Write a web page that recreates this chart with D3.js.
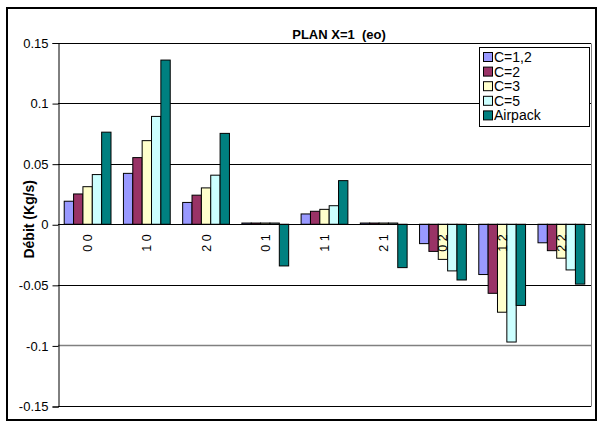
<!DOCTYPE html>
<html><head><meta charset="utf-8">
<script src="https://cdn.jsdelivr.net/npm/d3@7"></script>
<style>body{margin:0;background:#fff}svg{display:block;font-family:Arial,"Liberation Sans",sans-serif}</style>
</head><body>
<svg id="c" width="599" height="423"></svg>
<script>
const categories = ["0 0","1 0","2 0","0 1","1 1","2 1","0 2","1 2","2 2"];
const seriesNames = ["C=1,2","C=2","C=3","C=5","Airpack"];
const c12 = [0.019,0.042,0.018,0.001,0.0085,0.001,-0.016,-0.0415,-0.0153];
const c2 = [0.025,0.055,0.024,0.001,0.0107,0.001,-0.0224,-0.057,-0.0218];
const c3 = [0.031,0.069,0.030,0.001,0.0123,0.001,-0.029,-0.0726,-0.028];
const c5 = [0.041,0.089,0.0405,0.001,0.0153,0.001,-0.0385,-0.0972,-0.0377];
const airpack = [0.076,0.1355,0.075,-0.0344,0.036,-0.0358,-0.046,-0.067,-0.0494];
const colors = ["#9999FF","#993366","#FFFFCC","#CCFFFF","#008080"];
const yTicks = [0.15,0.1,0.05,0,-0.05,-0.1,-0.15];
const title = "PLAN X=1  (eo)";
const yTitle = "Débit (Kg/s)";

const series = [c12,c2,c3,c5,airpack];
const svg = d3.select("#c");
const L=58,R=591,T=42.5,B=406;
const x = d3.scaleBand().domain(categories).range([L,R]).paddingInner(0.21).paddingOuter(0.105);
const xs = d3.scaleBand().domain(seriesNames).range([0,x.bandwidth()]);
const y = d3.scaleLinear().domain([-0.15,0.15]).range([B,T]);

// outer border
svg.append("rect").attr("x",7).attr("y",8).attr("width",589).attr("height",412)
  .attr("fill","none").attr("stroke","#000").attr("stroke-width",2);

// gridlines
svg.append("g").selectAll("line").data(yTicks).join("line")
  .attr("x1",L).attr("x2",R).attr("y1",d=>Math.round(y(d))+0.5).attr("y2",d=>Math.round(y(d))+0.5)
  .attr("stroke",d=>d===-0.1?"#808080":"#000").attr("stroke-width",d=>d===-0.1?1.5:1);
svg.append("line").attr("x1",R+0.5).attr("x2",R+0.5).attr("y1",Math.round(y(0.15))+0.5).attr("y2",Math.round(y(-0.15))+0.5)
  .attr("stroke","#808080");

// y axis
const yAxis = d3.axisLeft(y).tickValues(yTicks).tickSize(6).tickFormat(d=>String(d));
const ga = svg.append("g").attr("transform",`translate(${L+0.5},0.5)`).call(yAxis);
ga.select(".domain").attr("stroke","#000");
ga.selectAll(".tick line").attr("stroke","#000");
ga.selectAll(".tick text").attr("font-size",13).attr("font-family","Arial, 'Liberation Sans', sans-serif").attr("fill","#000").attr("x",-10);

// bars
const groups = svg.append("g").selectAll("g").data(categories).join("g")
  .attr("transform",d=>`translate(${x(d)},0)`);
groups.selectAll("rect").data((c,i)=>series.map((s,k)=>({k,v:s[i]}))).join("rect")
  .attr("x",d=>xs(seriesNames[d.k]))
  .attr("width",xs.bandwidth())
  .attr("y",d=>y(Math.max(0,d.v)))
  .attr("height",d=>Math.abs(y(d.v)-y(0)))
  .attr("fill",d=>colors[d.k]).attr("stroke","#000").attr("stroke-width",1);

// zero line on top
svg.append("line").attr("x1",L).attr("x2",R).attr("y1",Math.round(y(0))+0.5).attr("y2",Math.round(y(0))+0.5).attr("stroke","#000");

// category labels
svg.append("g").selectAll("text").data(categories).join("text")
  .attr("transform",d=>`translate(${x(d)+x.bandwidth()/2+4.5},${y(0)+10}) rotate(-90)`)
  .attr("text-anchor","end").attr("font-size",12.5).style("white-space","pre").text(d=>d);

// y title
svg.append("text").attr("transform",`translate(34,${y(0)-5}) rotate(-90)`)
  .attr("text-anchor","middle").attr("font-size",14).attr("font-weight","bold").text(yTitle);

// title
svg.append("text").attr("x",339).attr("y",39).attr("text-anchor","middle").style("white-space","pre")
  .attr("font-size",13).attr("font-weight","bold").text(title);

// legend
const lg = svg.append("g").attr("transform","translate(479,47)");
lg.append("rect").attr("x",0.5).attr("y",0.5).attr("width",110).attr("height",79).attr("fill","#fff").attr("stroke","#000");
const items = lg.selectAll("g").data(seriesNames).join("g").attr("transform",(d,i)=>`translate(0,${10+i*14.6})`);
items.append("rect").attr("x",4.5).attr("y",-4.5).attr("width",9).attr("height",9).attr("fill",(d,i)=>colors[i]).attr("stroke","#000");
items.append("text").attr("x",15).attr("y",5).attr("font-size",14).text(d=>d);
</script>
</body></html>
